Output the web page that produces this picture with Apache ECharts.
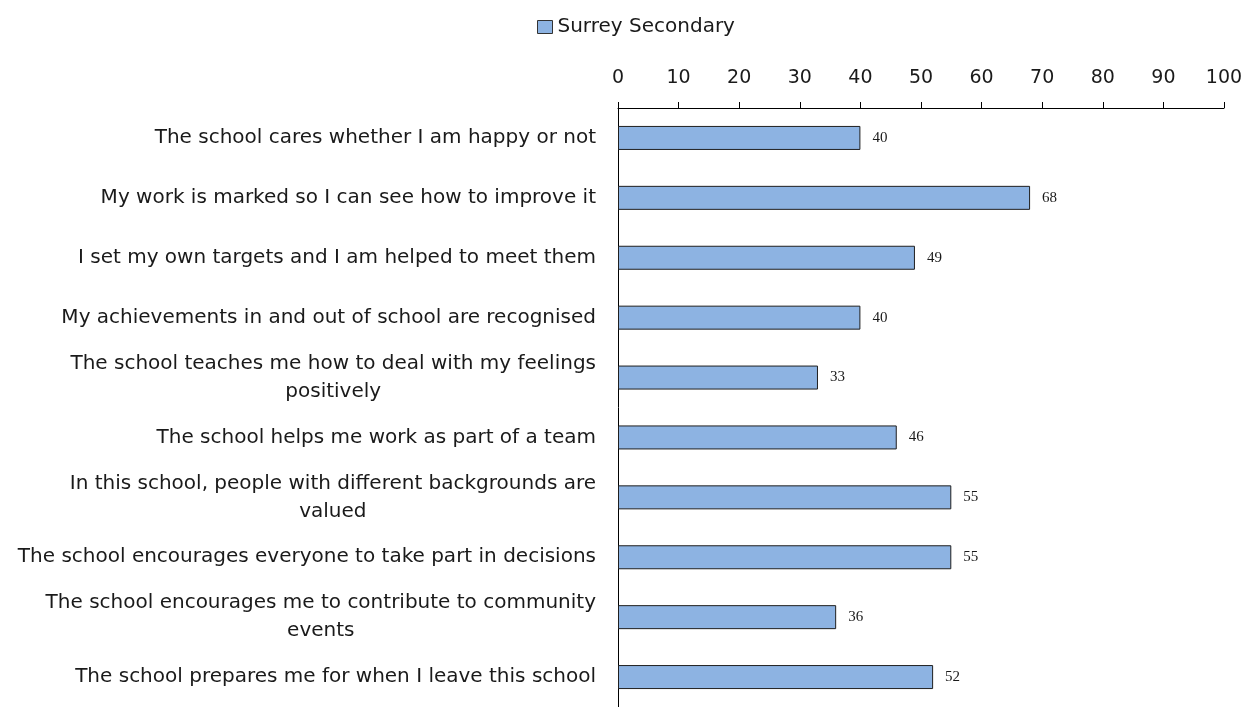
<!DOCTYPE html>
<html>
<head>
<meta charset="utf-8">
<script src="https://cdn.jsdelivr.net/npm/echarts@6/dist/echarts.min.js"></script>
<style>
  html, body { margin: 0; padding: 0; background: #fff; }
  #chart { width: 1247px; height: 707px; }
</style>
</head>
<body>
<div id="chart"></div>
<script>
// Survey statements (top to bottom); '\n' marks where a long statement wraps
const categories = [
  'The school cares whether I am happy or not',
  'My work is marked so I can see how to improve it',
  'I set my own targets and I am helped to meet them',
  'My achievements in and out of school are recognised',
  'The school teaches me how to deal with my feelings\npositively',
  'The school helps me work as part of a team',
  'In this school, people with different backgrounds are\nvalued',
  'The school encourages everyone to take part in decisions',
  'The school encourages me to contribute to community\nevents',
  'The school prepares me for when I leave this school'
];
const seriesName = 'Surrey Secondary';
const values = [40, 68, 49, 40, 33, 46, 55, 55, 36, 52];

const labelFont = '"DejaVu Sans", "Open Sans", sans-serif';

const chart = echarts.init(document.getElementById('chart'));
chart.setOption({
  animation: false,
  backgroundColor: '#ffffff',
  legend: {
    data: [seriesName],
    top: 12,
    left: 532,
    icon: 'rect',
    itemWidth: 15,
    itemHeight: 13,
    itemGap: 4,
    itemStyle: { borderColor: '#333', borderWidth: 1 },
    textStyle: { fontFamily: labelFont, fontSize: 20, color: '#1a1a1a' }
  },
  grid: { left: 618, top: 108, width: 606, height: 605, containLabel: false },
  xAxis: {
    type: 'value',
    position: 'top',
    min: 0,
    max: 100,
    interval: 10,
    axisLine: { show: true, lineStyle: { color: '#000', width: 1 } },
    axisTick: { show: true, length: 6, lineStyle: { color: '#000' } },
    axisLabel: { margin: 20, fontFamily: labelFont, fontSize: 19, color: '#1a1a1a' },
    splitLine: { show: false }
  },
  yAxis: {
    type: 'category',
    inverse: true,
    data: categories,
    axisLine: { show: true, lineStyle: { color: '#000', width: 1 } },
    axisTick: { show: false },
    axisLabel: {
      margin: 22,
      align: 'right',
      // wrapped lines are centred under one another, the block sits right of the axis
      formatter: function (v) {
        return v.split('\n').map(function (line) { return '{c|' + line + '}'; }).join('\n');
      },
      rich: {
        c: { align: 'center', fontFamily: labelFont, fontSize: 20, color: '#1a1a1a', lineHeight: 28 }
      }
    }
  },
  series: [{
    name: seriesName,
    type: 'bar',
    data: values,
    barWidth: 24,
    itemStyle: { color: '#8DB3E2', borderColor: '#1f1f1f', borderWidth: 1 },
    label: {
      show: true,
      position: 'right',
      distance: 12,
      fontFamily: '"Liberation Serif", "DejaVu Serif", serif',
      fontSize: 15,
      color: '#1a1a1a'
    }
  }]
});
</script>
</body>
</html>
